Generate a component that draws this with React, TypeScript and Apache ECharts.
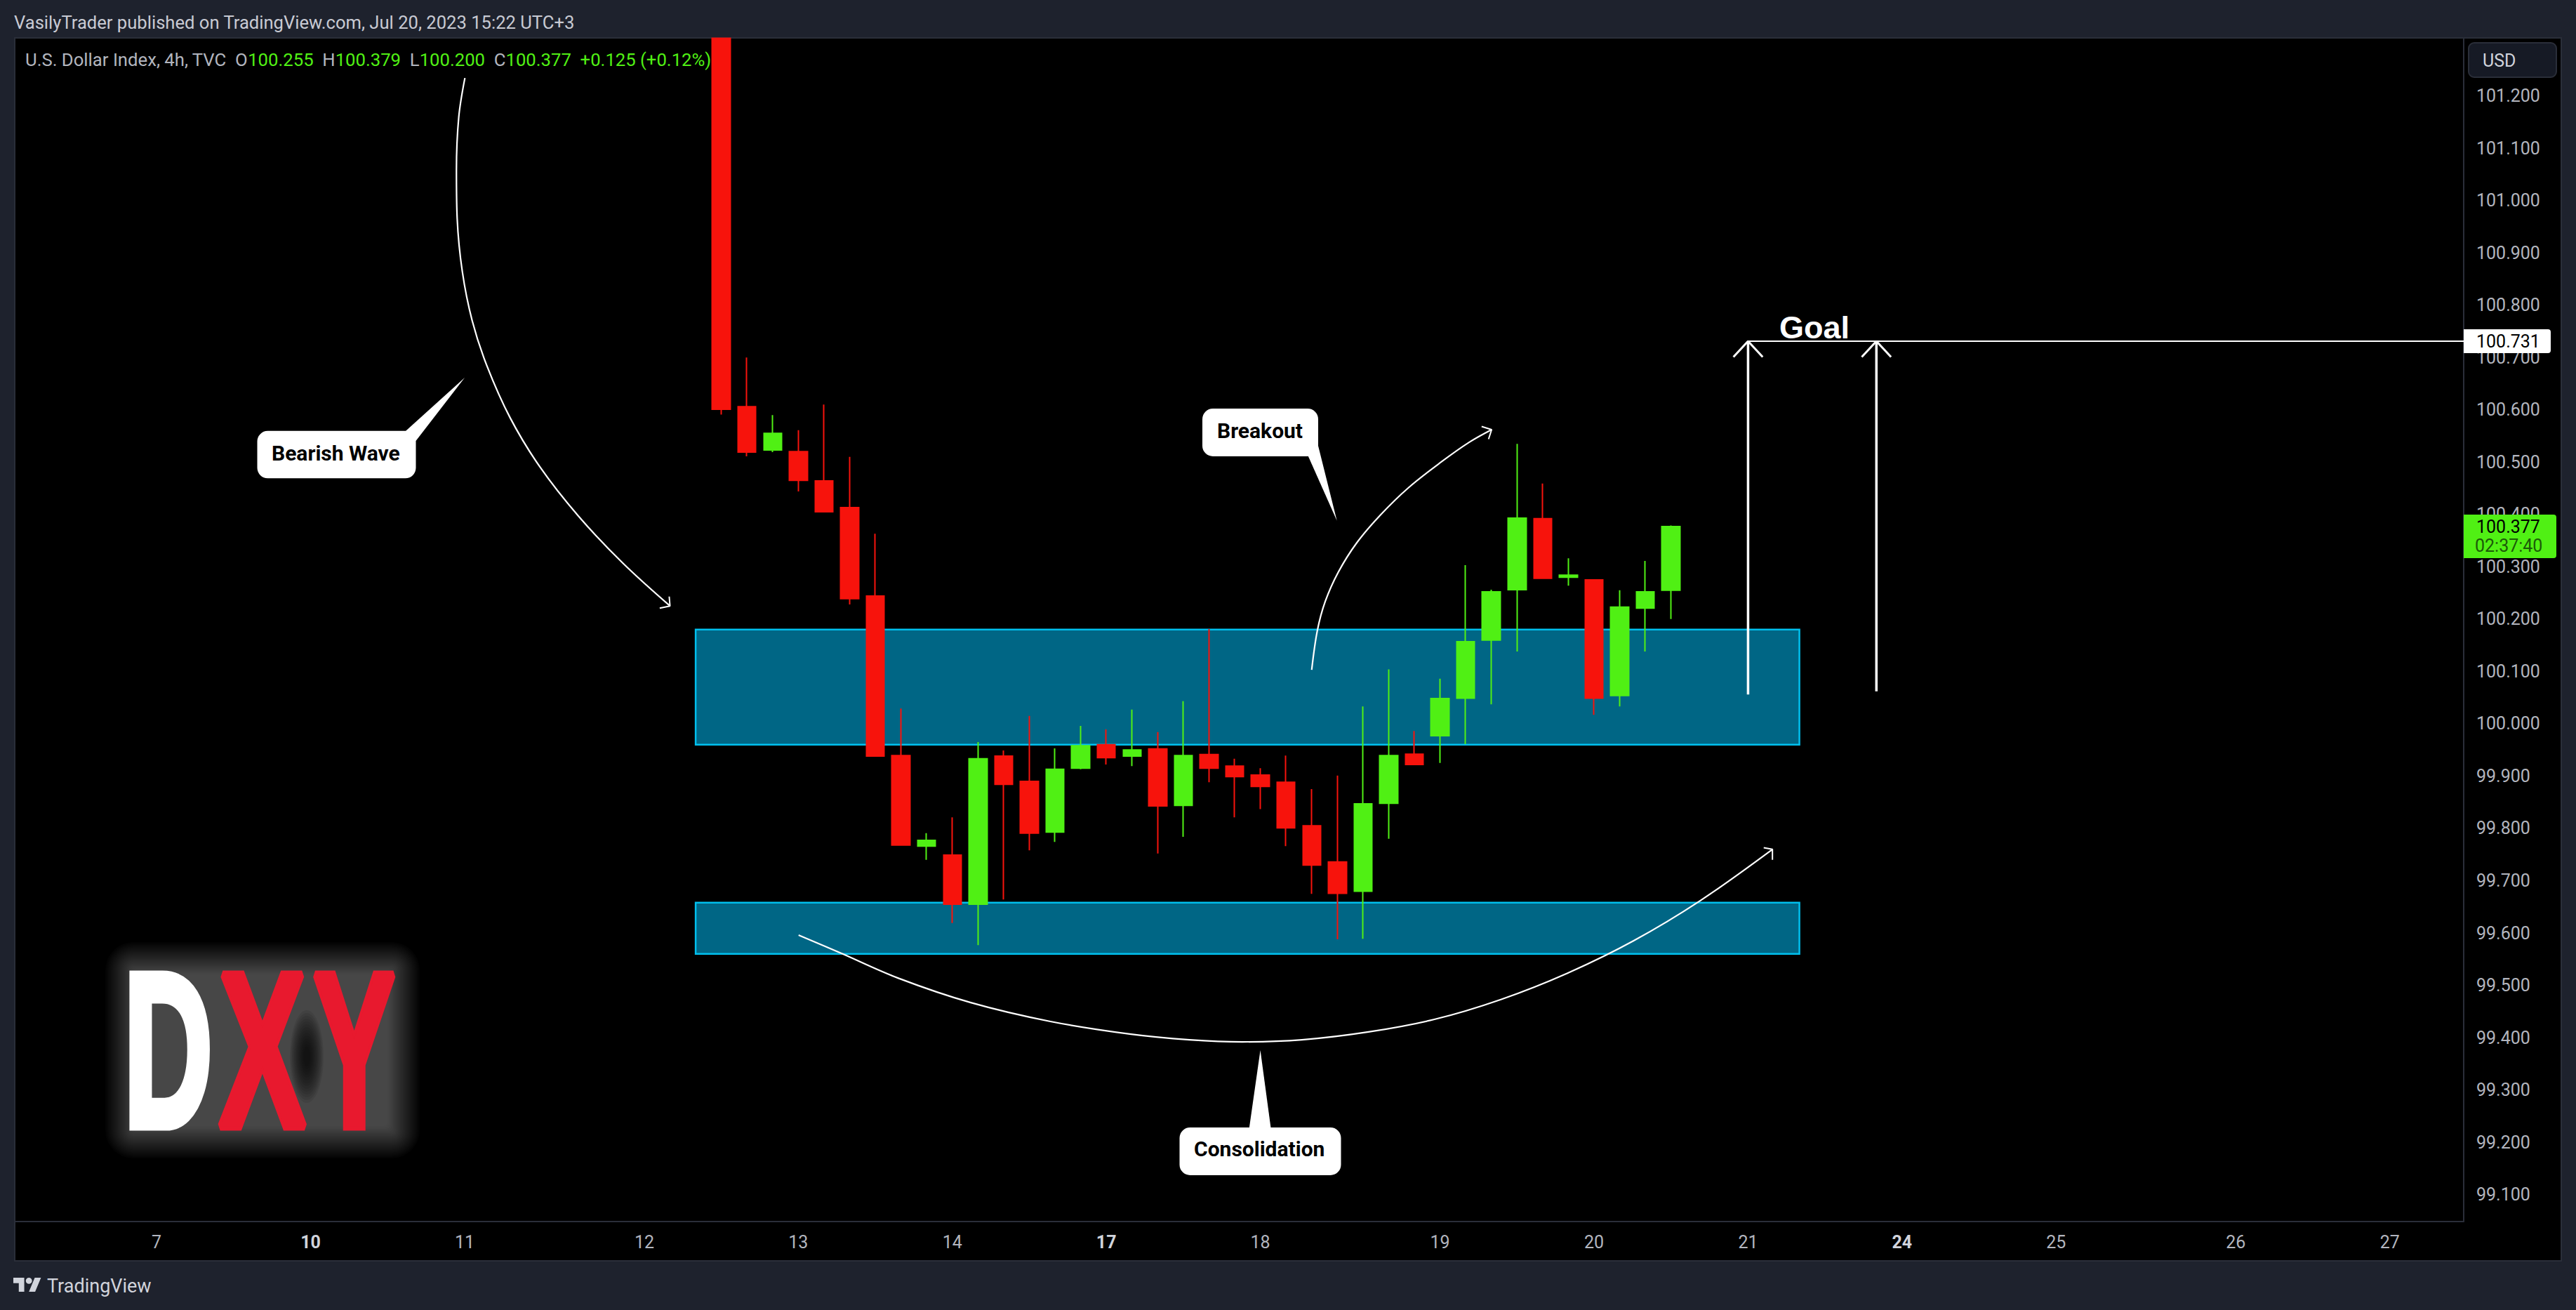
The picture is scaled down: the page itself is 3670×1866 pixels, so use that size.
import React, { useEffect, useRef } from "react";
import * as echarts from "echarts";

// Values. x is the bar number, 0 is the first bar drawn.
// The first bar runs off the top of the pane, so its open and high stop at the pane's edge.
const opens = [101.31, 100.606, 100.523, 100.52, 100.464, 100.413, 100.244, 99.939, 99.766, 99.749, 99.655, 99.938, 99.89, 99.793, 99.915, 99.96, 99.938, 99.952, 99.844, 99.941, 99.919, 99.902, 99.888, 99.805, 99.736, 99.68, 99.848, 99.942, 99.977, 100.049, 100.16, 100.256, 100.392, 100.28, 100.275, 100.054, 100.221, 100.255];
const highs = [101.31, 100.7, 100.59, 100.561, 100.61, 100.51, 100.363, 100.029, 99.791, 99.821, 99.965, 99.949, 100.015, 99.953, 99.996, 99.989, 100.027, 99.984, 100.043, 100.181, 99.933, 99.915, 99.939, 99.875, 99.901, 100.033, 100.104, 99.986, 100.086, 100.303, 100.256, 100.535, 100.459, 100.316, 100.275, 100.255, 100.311, 100.379];
const lows = [100.591, 100.511, 100.519, 100.444, 100.405, 100.228, 99.938, 99.768, 99.74, 99.619, 99.577, 99.664, 99.758, 99.774, 99.913, 99.922, 99.919, 99.752, 99.784, 99.888, 99.821, 99.837, 99.766, 99.675, 99.588, 99.589, 99.78, 99.922, 99.925, 99.961, 100.037, 100.138, 100.278, 100.264, 100.017, 100.033, 100.138, 100.2];
const closes = [100.601, 100.519, 100.555, 100.465, 100.405, 100.239, 99.938, 99.768, 99.777, 99.655, 99.933, 99.884, 99.791, 99.913, 99.958, 99.935, 99.95, 99.843, 99.939, 99.915, 99.899, 99.88, 99.801, 99.73, 99.676, 99.847, 99.939, 99.922, 100.048, 100.157, 100.252, 100.393, 100.278, 100.284, 100.049, 100.223, 100.252, 100.377];

const priceTicks = [99.1, 99.2, 99.3, 99.4, 99.5, 99.6, 99.7, 99.8, 99.9, 100, 100.1, 100.2, 100.3, 100.4, 100.5, 100.6, 100.7, 100.8, 100.9, 101, 101.1, 101.2];
const dayTicks = [-22, -16, -10, -3, 3, 9, 15, 21, 28, 34, 40, 46, 52, 59, 65];
const dayLabels = ["7", "10", "11", "12", "13", "14", "17", "18", "19", "20", "21", "24", "25", "26", "27"];
const boldDays = ["10", "17", "24"];

const zones = [
  [-1, 42, 100.18, 99.96],
  [-1, 42, 99.658, 99.56],
];

const bearishWave = [[-9.99, 101.234], [-10.23, 101.159], [-10.32, 101.058], [-10.29, 100.965], [-10.09, 100.864], [-9.71, 100.771], [-9.14, 100.685], [-8.22, 100.584], [-7.07, 100.491], [-5.57, 100.397], [-3.84, 100.307], [-2.0, 100.225]];
const bearishHead = [[-2.4, 100.221], [-2.0, 100.225], [-2.03, 100.243]];
const consolidation = [[3.01, 99.596], [4.68, 99.561], [6.88, 99.514], [9.72, 99.467], [12.82, 99.431], [15.91, 99.407], [18.24, 99.396], [20.3, 99.392], [22.62, 99.396], [25.21, 99.411], [27.78, 99.435], [30.37, 99.473], [32.95, 99.523], [35.53, 99.585], [38.11, 99.661], [40.95, 99.76]];
const consolidationHead = [[40.61, 99.763], [40.95, 99.76], [40.95, 99.74]];
const breakout = [[23.0, 100.103], [23.22, 100.178], [23.53, 100.234], [24.04, 100.29], [24.76, 100.346], [25.68, 100.399], [26.77, 100.451], [28.04, 100.5], [29.14, 100.538], [30.01, 100.562]];
const breakoutHead = [[29.62, 100.568], [30.01, 100.562], [29.89, 100.544]];

const goalLine = [[40, 100.731], [67.88, 100.731]];
const goalArrowA = [[40, 100.056], [40, 100.731]];
const goalHeadA = [[39.43, 100.701], [40, 100.731], [40.57, 100.701]];
const goalArrowB = [[45, 100.062], [45, 100.731]];
const goalHeadB = [[44.43, 100.701], [45, 100.731], [45.57, 100.701]];

const RED = "#f7130c";
const GREEN = "#50f014";
const FONT = "Roboto, Inter, sans-serif";

echarts.graphic.registerShape(
  "tvLogo",
  echarts.graphic.extendPath(
    "M14 22H7V11H0V4h14v18zM28 22h-8l7.5-18h8L28 22zM24 8a4 4 0 1 1-8 0a4 4 0 1 1 8 0z",
    {}
  )
);

const annotation = (data: number[][], smooth: number | boolean, width: number) => ({
  type: "line",
  data,
  smooth,
  showSymbol: false,
  silent: true,
  z: 3,
  lineStyle: { color: "#ffffff", width },
});

const callout = (
  box: number[],
  tail: number[][],
  label: string,
  textX: number,
  textY: number
) => [
  {
    type: "polygon",
    z: 10,
    shape: { points: tail },
    style: { fill: "#ffffff" },
  },
  {
    type: "rect",
    z: 10,
    shape: { x: box[0], y: box[1], width: box[2], height: box[3], r: 15 },
    style: { fill: "#ffffff" },
  },
  {
    type: "text",
    z: 11,
    x: textX,
    y: textY,
    style: {
      text: label,
      fill: "#000000",
      font: `bold 30px ${FONT}`,
      textAlign: "left",
      textVerticalAlign: "middle",
    },
  },
];

const dxyLetter = (letter: string, x: number, scaleX: number, fill: string) => ({
  type: "text",
  z: 6,
  x,
  y: 1496,
  scaleX,
  scaleY: 1,
  style: {
    text: letter,
    fill,
    stroke: fill,
    lineWidth: 12,
    font: 'bold 314px "Liberation Sans Narrow", "Liberation Sans", sans-serif',
    textAlign: "left",
    textVerticalAlign: "middle",
  },
});

// The glow round the logo: thin stacked layers, so it has no hard edge.
const glowLayers = Array.from({ length: 24 }, (_, i) => {
  const grow = 40 - i * 2;
  return {
    type: "rect",
    z: 4,
    shape: {
      x: 190 - grow,
      y: 1382 - grow,
      width: 368 + grow * 2,
      height: 228 + grow * 2,
      r: Math.max(grow, 6),
    },
    style: { fill: "#ffffff", opacity: 0.014 },
  };
});

const glowGap = Array.from({ length: 14 }, (_, i) => ({
  type: "ellipse",
  z: 5,
  shape: { cx: 437, cy: 1505, rx: 24 - i * 1.5, ry: 66 - i * 4 },
  style: { fill: "#000000", opacity: 0.08 },
}));

const App: React.FC = () => {
  const chartRef = useRef<HTMLDivElement>(null);

  useEffect(() => {
    if (chartRef.current) {
      const chart = echarts.init(chartRef.current, undefined, { renderer: "svg" });
      const option = {
        animation: false,
        backgroundColor: "#1e222d",
        grid: { left: 22, top: 54, width: 3488, height: 1686 },
        xAxis: {
          type: "value",
          min: -27.5,
          max: 67.88,
          splitLine: { show: false },
          axisTick: { show: false },
          axisLine: { onZero: false, lineStyle: { color: "#2a2e39", width: 2 } },
          axisLabel: {
            customValues: dayTicks,
            margin: 17,
            fontSize: 25,
            fontFamily: FONT,
            color: "#b2b5be",
            formatter: (v: number) => {
              const label = dayLabels[dayTicks.indexOf(v)];
              return boldDays.includes(label) ? `{b|${label}}` : label;
            },
            rich: {
              b: { fontSize: 25, fontWeight: "bold", fontFamily: FONT, color: "#d1d4dc" },
            },
          },
        },
        yAxis: {
          type: "value",
          position: "right",
          min: 99.0486,
          max: 101.3107,
          splitLine: { show: false },
          axisTick: { show: false },
          axisLine: { show: true, onZero: false, lineStyle: { color: "#2a2e39", width: 2 } },
          axisLabel: {
            customValues: priceTicks,
            margin: 18,
            fontSize: 25,
            fontFamily: FONT,
            color: "#b2b5be",
            formatter: (v: number) => v.toFixed(3),
          },
        },
        series: [
          {
            type: "custom",
            z: 1,
            silent: true,
            data: zones,
            encode: { x: [0, 1], y: [2, 3] },
            renderItem: (_p: any, api: any) => {
              const a = api.coord([api.value(0), api.value(2)]);
              const b = api.coord([api.value(1), api.value(3)]);
              return {
                type: "rect",
                shape: { x: a[0], y: a[1], width: b[0] - a[0], height: b[1] - a[1] },
                style: { fill: "#006685", stroke: "#00c0ee", lineWidth: 2.5 },
              };
            },
          },
          {
            type: "candlestick",
            z: 2,
            silent: true,
            barWidth: 26,
            encode: { x: 0, y: [1, 2, 3, 4] },
            data: opens.map((o, i) => [i, o, closes[i], lows[i], highs[i]]),
            itemStyle: {
              color: GREEN,
              color0: RED,
              borderColor: GREEN,
              borderColor0: RED,
              borderWidth: 2,
            },
          },
          annotation(bearishWave, 0.35, 2.2),
          annotation(bearishHead, false, 2),
          annotation(consolidation, 0.35, 2.2),
          annotation(consolidationHead, false, 2),
          annotation(breakout, 0.35, 2.2),
          annotation(breakoutHead, false, 2),
          annotation(goalLine, false, 2),
          annotation(goalArrowA, false, 3.5),
          annotation(goalHeadA, false, 3),
          annotation(goalArrowB, false, 3.5),
          annotation(goalHeadB, false, 3),
        ],
        graphic: [
          {
            type: "rect",
            z: -1,
            shape: { x: 21, y: 54, width: 3628, height: 1742 },
            style: { fill: "#000000", stroke: "#2a2e39", lineWidth: 2 },
          },
          {
            type: "text",
            x: 20,
            y: 32,
            style: {
              text: "VasilyTrader published on TradingView.com, Jul 20, 2023 15:22 UTC+3",
              fill: "#c8cad3",
              font: `25.6px ${FONT}`,
              textVerticalAlign: "middle",
            },
          },
          {
            type: "text",
            z: 5,
            x: 36,
            y: 85,
            style: {
              text:
                "{n|U.S. Dollar Index, 4h, TVC  O}{g|100.255}{n|  H}{g|100.379}{n|  L}{g|100.200}{n|  C}{g|100.377}{g|  +0.125 (+0.12%)}",
              textVerticalAlign: "middle",
              rich: {
                n: { fill: "#b2b5be", font: `25.7px ${FONT}` },
                g: { fill: GREEN, font: `25.7px ${FONT}` },
              },
            },
          },
          // price scale tags and USD button
          {
            type: "rect",
            z: 10,
            shape: { x: 3517, y: 61, width: 125, height: 49, r: 8 },
            style: { fill: "#161a25", stroke: "#2a2e39", lineWidth: 2 },
          },
          {
            type: "text",
            z: 11,
            x: 3537,
            y: 86,
            style: { text: "USD", fill: "#d1d4dc", font: `25px ${FONT}`, textVerticalAlign: "middle" },
          },
          {
            type: "rect",
            z: 10,
            shape: { x: 3510, y: 469, width: 124, height: 34, r: [0, 4, 4, 0] },
            style: { fill: "#ffffff" },
          },
          {
            type: "text",
            z: 11,
            x: 3528,
            y: 486,
            style: { text: "100.731", fill: "#000000", font: `25px ${FONT}`, textVerticalAlign: "middle" },
          },
          {
            type: "rect",
            z: 10,
            shape: { x: 3510, y: 733, width: 132, height: 62, r: [0, 4, 4, 0] },
            style: { fill: GREEN },
          },
          {
            type: "text",
            z: 11,
            x: 3528,
            y: 750,
            style: { text: "100.377", fill: "#000000", font: `25px ${FONT}`, textVerticalAlign: "middle" },
          },
          {
            type: "text",
            z: 11,
            x: 3526,
            y: 777,
            style: { text: "02:37:40", fill: "#1c5a08", font: `25px ${FONT}`, textVerticalAlign: "middle" },
          },
          // Goal
          {
            type: "text",
            z: 6,
            x: 2535,
            y: 466,
            style: {
              text: "Goal",
              fill: "#ffffff",
              font: 'bold 45px "Liberation Sans", sans-serif',
              textVerticalAlign: "middle",
            },
          },
          // callouts
          ...callout(
            [366.5, 613.8, 226, 67.5],
            [[575.7, 616], [592.5, 628], [662, 538]],
            "Bearish Wave",
            387,
            645
          ),
          ...callout(
            [1713, 582, 165, 68],
            [[1863, 648], [1878, 635], [1904.7, 741.7]],
            "Breakout",
            1734,
            613
          ),
          ...callout(
            [1680.5, 1606, 230, 68],
            [[1779.6, 1608], [1810.7, 1608], [1795.6, 1496]],
            "Consolidation",
            1701,
            1636
          ),
          // DXY logo
          ...glowLayers,
          ...glowGap,
          dxyLetter("D", 176, 0.56, "#ffffff"),
          dxyLetter("X", 312, 0.59, "#e8192e"),
          dxyLetter("Y", 446, 0.56, "#e8192e"),
          // footer logo
          {
            type: "tvLogo",
            x: 19,
            y: 1815.5,
            scaleX: 1.11,
            scaleY: 1.11,
            style: { fill: "#d1d4dc" },
          },
          {
            type: "text",
            x: 67,
            y: 1832,
            style: { text: "TradingView", fill: "#d1d4dc", font: `27px ${FONT}`, textVerticalAlign: "middle" },
          },
        ],
      };
      chart.setOption(option as any);
      return () => chart.dispose();
    }
  }, []);

  return (
    <div
      ref={chartRef}
      style={{ position: "fixed", left: 0, top: 0, width: "3670px", height: "1866px" }}
    ></div>
  );
};

export default App;
